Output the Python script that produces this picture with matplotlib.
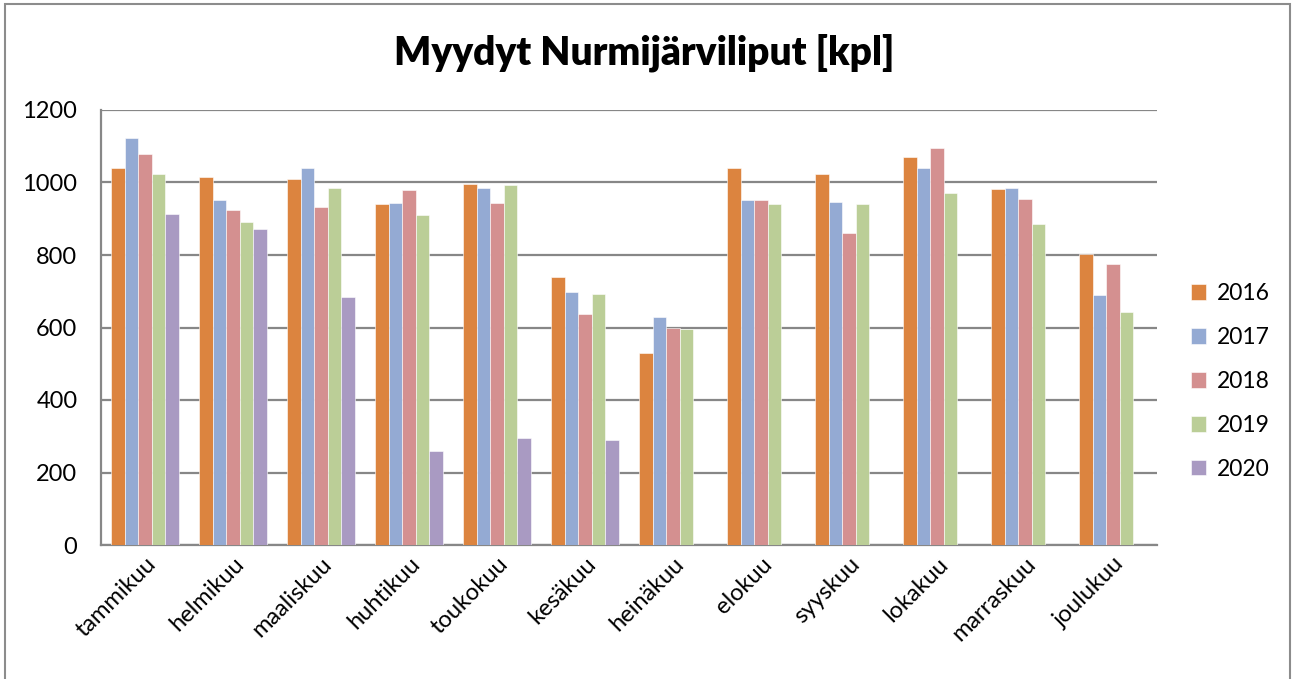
import matplotlib
matplotlib.use('Agg')
import matplotlib.pyplot as plt
import numpy as np
from matplotlib.patches import Rectangle

plt.rcParams['font.family'] = ['Lato', 'DejaVu Sans']

months = ['tammikuu', 'helmikuu', 'maaliskuu', 'huhtikuu', 'toukokuu', 'kesäkuu',
          'heinäkuu', 'elokuu', 'syyskuu', 'lokakuu', 'marraskuu', 'joulukuu']
years = ['2016', '2017', '2018', '2019', '2020']

# sold tickets per month, one list per year (2020 only until June)
sales_2016 = [1041, 1016, 1009, 940, 997, 739, 530, 1040, 1023, 1071, 983, 803]
sales_2017 = [1122, 952, 1041, 943, 985, 699, 628, 951, 946, 1040, 985, 690]
sales_2018 = [1079, 924, 932, 980, 943, 636, 600, 952, 860, 1096, 954, 776]
sales_2019 = [1023, 891, 985, 910, 992, 693, 597, 941, 940, 970, 886, 643]
sales_2020 = [913, 872, 684, 259, 295, 290]

series = [sales_2016, sales_2017, sales_2018, sales_2019, sales_2020]
colors = ['#DC843F', '#94AAD3', '#D49090', '#BBCE97', '#A99AC2']

fig = plt.figure(figsize=(12.92, 6.79), dpi=100)
ax = fig.add_axes([101 / 1292, 1 - 545 / 679, (1157 - 101) / 1292, (545 - 110) / 679])

width = 0.153  # width of one bar
for j, (vals, col, lab) in enumerate(zip(series, colors, years)):
    x = np.arange(len(vals)) + (j - 2) * width
    ax.bar(x, vals, width, color=col, label=lab, edgecolor='white', linewidth=0.4, zorder=3)

ax.set_xlim(-0.5, len(months) - 0.5)
ax.set_ylim(0, 1200)
ax.set_yticks(range(0, 1201, 200))
ax.set_xticks(np.arange(len(months)))
ax.set_xticklabels(months, rotation=45, ha='right', rotation_mode='anchor')
ax.tick_params(axis='both', length=0, labelsize=17, colors='black')
ax.tick_params(axis='y', pad=17)
ax.tick_params(axis='x', pad=6)

ax.grid(axis='y', color='#878787', linewidth=1.6, zorder=0)
for s in ['top', 'right']:
    ax.spines[s].set_visible(False)
for s in ['left', 'bottom']:
    ax.spines[s].set_color('#878787')
    ax.spines[s].set_linewidth(1.6)

fig.text(644 / 1292, 1 - 53 / 679, 'Myydyt Nurmijärviliput [kpl]', ha='center', va='center',
         fontsize=28, fontweight='heavy')

ax.legend(loc='center left', bbox_to_anchor=(1170 / 1292, 1 - 381.5 / 679),
          bbox_transform=fig.transFigure, frameon=False, fontsize=16.5,
          handlelength=0.65, handleheight=0.65, handletextpad=0.5, labelspacing=1.0)

# chart area border
fig.patches.append(Rectangle((5 / 1292, -0.05), 1285 / 1292, 1.05 - 4 / 679, transform=fig.transFigure,
                             fill=False, edgecolor='#8C8C8C', linewidth=1.5))

fig.savefig('out.png', dpi=100, facecolor='white')
